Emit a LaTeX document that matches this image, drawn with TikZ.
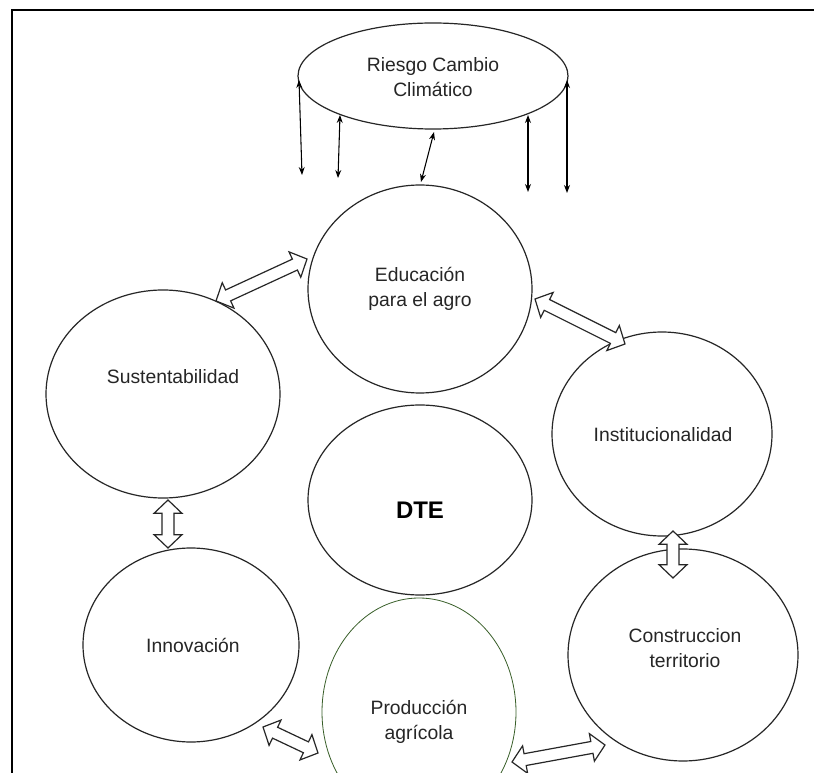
\documentclass[tikz,border=0pt]{standalone}
\usepackage{fontspec}
\setmainfont{Liberation Sans}
\usetikzlibrary{shapes.geometric,calc,arrows.meta}
\def\arrH{10pt}
\def\arrW{10.5pt}
\def\arrS{4.5pt}
\newcommand\dblarr[2]{%
  \draw[blockarr] (#1)
    -- ($(#1)!\arrH!(#2)!\arrW!90:(#2)$)
    -- ($(#1)!\arrH!(#2)!\arrS!90:(#2)$)
    -- ($(#2)!\arrH!(#1)!\arrS!-90:(#1)$)
    -- ($(#2)!\arrH!(#1)!\arrW!-90:(#1)$)
    -- (#2)
    -- ($(#2)!\arrH!(#1)!\arrW!90:(#1)$)
    -- ($(#2)!\arrH!(#1)!\arrS!90:(#1)$)
    -- ($(#1)!\arrH!(#2)!\arrS!-90:(#2)$)
    -- ($(#1)!\arrH!(#2)!\arrW!-90:(#2)$)
    -- cycle;}
\begin{document}
\begin{tikzpicture}[x=0.75pt,y=-0.75pt,
  bubble/.style={ellipse, draw=black!85, line width=0.9pt, inner sep=0pt},
  lbl/.style={align=center, font=\fontsize{14.5pt}{19pt}\selectfont, text=black!85},
  thinarr/.style={{Stealth[length=6pt,width=4.5pt]}-{Stealth[length=6pt,width=4.5pt]}, line width=0.8pt},
  blockarr/.style={draw=black!85, line width=0.9pt, fill=white, line join=miter}
]
\useasboundingbox (0,0) rectangle (814,773);
\fill[white] (0,0) rectangle (814,773);
\draw[line width=1.5pt] (12,800) -- (12,10) -- (840,10);

% shapes
\node[bubble, minimum width=202.5pt, minimum height=79.5pt] (rcc) at (433,76) {};
\node[bubble, minimum width=168pt, minimum height=156pt] (edu) at (420,289) {};
\node[bubble, minimum width=168pt, minimum height=142.5pt] (dte) at (420,500) {};
\node[bubble, minimum width=175.5pt, minimum height=156pt] (sus) at (163,394) {};
\node[bubble, minimum width=165pt, minimum height=153pt] (ins) at (662,434) {};
\node[bubble, minimum width=162pt, minimum height=145.5pt] (inn) at (191,645) {};
\node[bubble, draw={rgb,255:red,56;green,94;blue,40}, line width=0.6pt, minimum width=145.5pt, minimum height=171pt] (pro) at (419,712) {};
\node[bubble, minimum width=172.5pt, minimum height=159pt] (con) at (683,655) {};

% labels
\node[lbl] (rcc-t) at (433,77) {Riesgo Cambio\\Climático};
\node[lbl] (edu-t) at (420,289) {Educación\\para el agro};
\node[lbl, font=\bfseries\fontsize{18pt}{20pt}\selectfont, text=black] (dte-t) at (420,510) {DTE};
\node[lbl] (sus-t) at (173,377) {Sustentabilidad};
\node[lbl] (ins-t) at (663,435) {Institucionalidad};
\node[lbl] (inn-t) at (193,645) {Innovación};
\node[lbl] (pro-t) at (419,722) {Producción\\agrícola};
\node[lbl] (con-t) at (685,648) {Construccion\\territorio};

% thin arrows from the risk ellipse
\coordinate (r1a) at (299,80);  \coordinate (r1b) at (302,175);
\coordinate (r2a) at (340,115); \coordinate (r2b) at (338,178);
\coordinate (r3a) at (434,132); \coordinate (r3b) at (421,182);
\coordinate (r4a) at (528,115); \coordinate (r4b) at (528,192);
\coordinate (r5a) at (567,80);  \coordinate (r5b) at (567,193);
\draw[thinarr] (r1a) -- (r1b);
\draw[thinarr] (r2a) -- (r2b);
\draw[thinarr] (r3a) -- (r3b);
\draw[thinarr] (r4a) -- (r4b);
\draw[thinarr] (r5a) -- (r5b);

% block double arrows
\coordinate (b1a) at (216,301); \coordinate (b1b) at (307,259);
\coordinate (b2a) at (535,299); \coordinate (b2b) at (625,344);
\coordinate (b3a) at (168,500); \coordinate (b3b) at (168,548);
\coordinate (b4a) at (673,531); \coordinate (b4b) at (673,578);
\coordinate (b5a) at (263,727); \coordinate (b5b) at (318,753);
\coordinate (b6a) at (512,762); \coordinate (b6b) at (605,745);
\dblarr{b1a}{b1b}
\dblarr{b2a}{b2b}
\dblarr{b3a}{b3b}
\dblarr{b4a}{b4b}
\dblarr{b5a}{b5b}
\dblarr{b6a}{b6b}
\end{tikzpicture}
\end{document}
